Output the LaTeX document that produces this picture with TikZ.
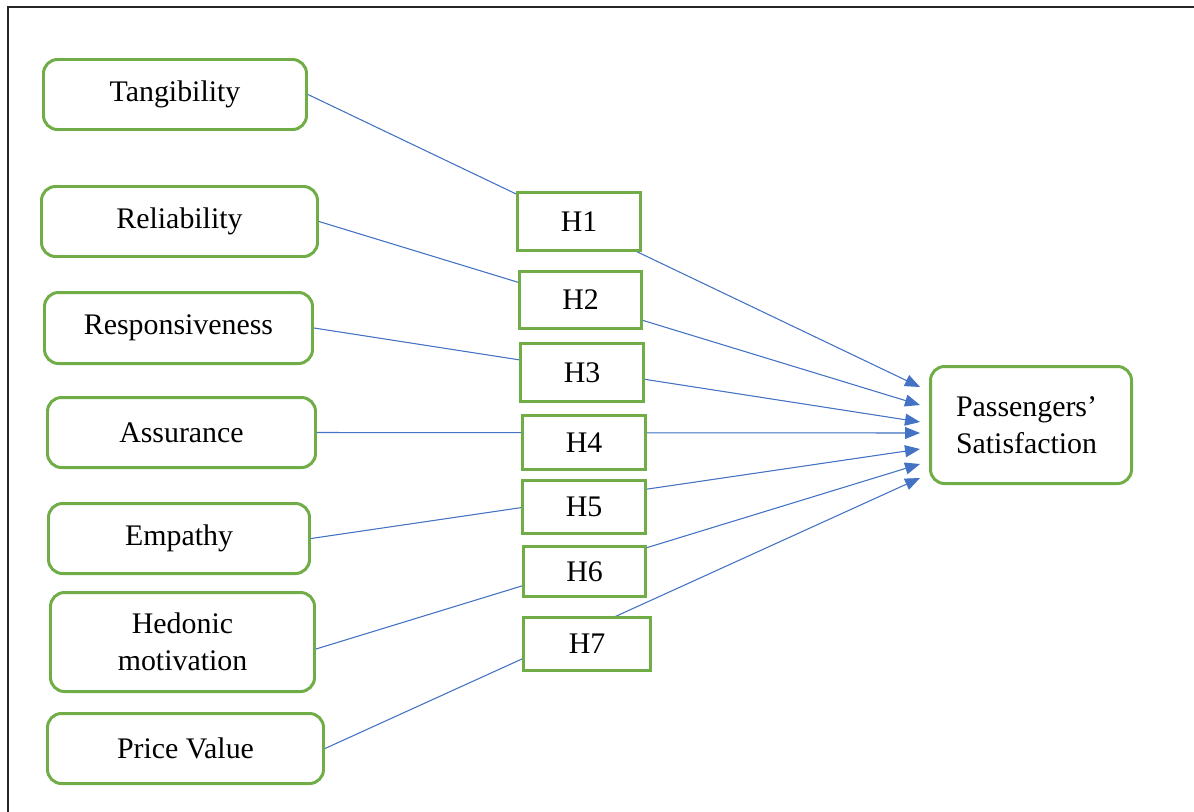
\documentclass[tikz,border=0pt]{standalone}
\usepackage{fontspec}
\setmainfont{Liberation Serif}
\usepackage{tikz}
\usetikzlibrary{arrows.meta, positioning, calc}

\definecolor{boxgreen}{RGB}{112,173,71}
\definecolor{lineblue}{RGB}{68,114,196}

\begin{document}
\begin{tikzpicture}[
    factorbox/.style={rectangle, draw=boxgreen, line width=1.7pt, rounded corners=0.28cm, fill=white, align=center, inner sep=0pt, font=\fontsize{17}{21}\selectfont},
    hypbox/.style={rectangle, draw=boxgreen, line width=1.7pt, fill=white, inner sep=0pt, font=\fontsize{17}{21}\selectfont},
    outcomebox/.style={factorbox, align=left},
    link/.style={-{Triangle[length=0.3cm,width=0.24cm]}, draw=lineblue, fill=lineblue, line width=0.6pt}
]

% Frame
\useasboundingbox (0,0) rectangle (23.88,-16.22);
\clip (0,0) rectangle (23.88,-16.22);
\draw[line width=1.1pt, black!85] (0.16,-0.14) rectangle (24.5,-17);

% ========== FACTORS (left) ==========
\node[factorbox, minimum width=5.26cm, minimum height=1.40cm] (tang) at (3.50,-1.89) {Tangibility};
\node[factorbox, minimum width=5.52cm, minimum height=1.40cm] (rel) at (3.59,-4.43) {Reliability};
\node[factorbox, minimum width=5.36cm, minimum height=1.42cm] (resp) at (3.57,-6.56) {Responsiveness};
\node[factorbox, minimum width=5.36cm, minimum height=1.40cm] (assur) at (3.63,-8.65) {Assurance};
\node[factorbox, minimum width=5.22cm, minimum height=1.40cm] (emp) at (3.58,-10.77) {Empathy};
\node[factorbox, minimum width=5.28cm, minimum height=1.98cm] (hed) at (3.65,-12.84) {Hedonic\\motivation};
\node[factorbox, minimum width=5.52cm, minimum height=1.40cm] (price) at (3.71,-14.97) {Price Value};

% ========== OUTCOME (right) ==========
\node[outcomebox, minimum width=4.02cm, minimum height=2.34cm, text width=3.0cm] (sat) at (20.62,-8.50) {Passengers’\\Satisfaction};

% Links - straight lines, hypothesis boxes sit on top
\draw[link] (tang.east) -- ([xshift=-0.18cm, yshift=0.76cm]sat.west);
\draw[link] (rel.east) -- ([xshift=-0.18cm, yshift=0.40cm]sat.west);
\draw[link] (resp.east) -- ([xshift=-0.18cm, yshift=0.06cm]sat.west);
\draw[link] (assur.east) -- ([xshift=-0.18cm, yshift=-0.16cm]sat.west);
\draw[link] (emp.east) -- ([xshift=-0.18cm, yshift=-0.48cm]sat.west);
\draw[link] ([yshift=-0.14cm]hed.east) -- ([xshift=-0.18cm, yshift=-0.78cm]sat.west);
\draw[link] (price.east) -- ([xshift=-0.18cm, yshift=-1.06cm]sat.west);

% ========== HYPOTHESES (middle) ==========
\node[hypbox, minimum width=2.46cm, minimum height=1.16cm] (h1) at (11.58,-4.43) {H1};
\node[hypbox, minimum width=2.44cm, minimum height=1.14cm] (h2) at (11.61,-6.00) {H2};
\node[hypbox, minimum width=2.46cm, minimum height=1.16cm] (h3) at (11.64,-7.45) {H3};
\node[hypbox, minimum width=2.46cm, minimum height=1.08cm] (h4) at (11.68,-8.85) {H4};
\node[hypbox, minimum width=2.46cm, minimum height=1.06cm] (h5) at (11.68,-10.14) {H5};
\node[hypbox, minimum width=2.44cm, minimum height=1.00cm] (h6) at (11.69,-11.43) {H6};
\node[hypbox, minimum width=2.54cm, minimum height=1.06cm] (h7) at (11.74,-12.88) {H7};

\end{tikzpicture}
\end{document}
